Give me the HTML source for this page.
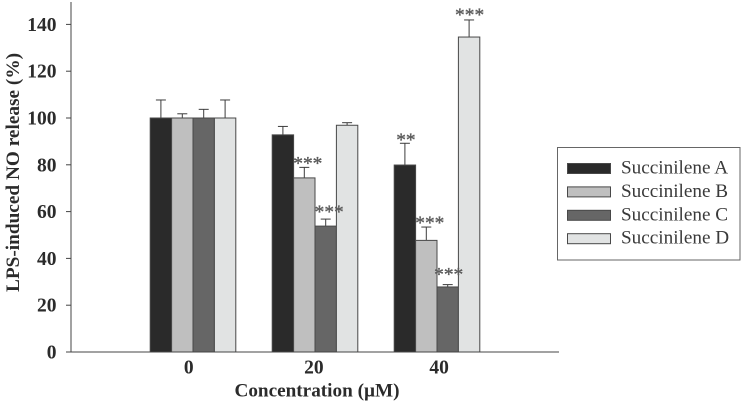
<!DOCTYPE html>
<html>
<head>
<meta charset="utf-8">
<style>
html,body{margin:0;padding:0;background:#fff;}
svg{display:block;filter:blur(0.3px);}
text{font-family:"Liberation Serif",serif;}
</style>
</head>
<body>
<svg id="chart" width="743" height="402" viewBox="0 0 743 402" xmlns="http://www.w3.org/2000/svg">
<g id="bars"></g>
<g id="stars"></g>
<g id="y-axis"></g>
<g id="x-axis"></g>
<text transform="translate(19,172.5) rotate(-90)" text-anchor="middle" font-size="19.3" font-weight="bold" fill="#2b2b2b">LPS-induced NO release (%)</text>
<text x="317" y="396.5" text-anchor="middle" font-size="19.2" font-weight="bold" fill="#2b2b2b">Concentration (µM)</text>
<g id="legend"></g>
</svg>
<script>
const categories = ['0', '20', '40'];
const seriesNames = ['Succinilene A', 'Succinilene B', 'Succinilene C', 'Succinilene D'];
const seriesA = [100, 92.8, 79.9];
const seriesB = [100, 74.4, 47.7];
const seriesC = [100, 53.8, 27.8];
const seriesD = [100, 96.9, 134.6];
const errorA = [7.7, 3.6, 9.3];
const errorB = [1.8, 4.5, 5.7];
const errorC = [3.7, 3.0, 1.0];
const errorD = [7.7, 1.1, 7.3];
const starsA = ['', '', '**'];
const starsB = ['', '***', '***'];
const starsC = ['', '***', '***'];
const starsD = ['', '', '***'];
const yTicks = [0, 20, 40, 60, 80, 100, 120, 140];

const NS = 'http://www.w3.org/2000/svg';
const allValues = [seriesA, seriesB, seriesC, seriesD];
const allErrors = [errorA, errorB, errorC, errorD];
const allStars = [starsA, starsB, starsC, starsD];
const fills = ['#2a2a2a', '#bfbfbf', '#666666', '#e1e3e3'];
const axisLeft = 71, axisBottom = 352, axisRight = 559, axisTop = 2;
const pxPerUnit = 2.34, bandWidth = 122, barWidth = 21.4;
/* layout nudges for the significance marks: [series][category] = [dx, dy] */
const starNudge = {
  '0-2': [1, 1.5],
  '1-1': [3.5, 1],
  '1-2': [3.5, 1],
  '2-1': [3.5, -2],
  '2-2': [1, -5],
  '3-2': [0.5, 0]
};

function y(v) { return axisBottom - v * pxPerUnit; }
function xCenter(i) { return axisLeft + bandWidth * (i + 1); }
function xBar(i, s) { return xCenter(i) + (s - 2) * barWidth; }
function make(tag, attrs, parent, txt) {
  const el = document.createElementNS(NS, tag);
  for (const k in attrs) el.setAttribute(k, attrs[k]);
  if (txt !== undefined) el.textContent = txt;
  parent.appendChild(el);
  return el;
}

const barsG = document.getElementById('bars');
const starsG = document.getElementById('stars');
allValues.forEach(function (vals, s) {
  vals.forEach(function (v, i) {
    const bx = xBar(i, s), cx = bx + barWidth / 2, top = y(v), errTop = y(v + allErrors[s][i]);
    const stem = make('line', {x1: cx, x2: cx, y1: top, y2: errTop, stroke: '#3c3c3c', 'stroke-width': 1}, barsG);
    
    
    const cap = make('line', {x1: cx - 5, x2: cx + 5, y1: errTop, y2: errTop, stroke: '#3c3c3c', 'stroke-width': 1}, barsG);
    
    
    const bar = make('rect', {x: bx, y: top, width: barWidth, height: axisBottom - top, fill: fills[s], stroke: '#484848', 'stroke-width': 1}, barsG);
    
    
    if (allStars[s][i]) {
      const nudge = starNudge[s + '-' + i] || [0, 0];
      const star = make('text', {x: cx + nudge[0], y: errTop + 1 + nudge[1], 'text-anchor': 'middle', 'font-size': 19.4, fill: '#5c5c5c', stroke: '#5c5c5c', 'stroke-width': 0.35}, starsG, allStars[s][i]);
      
      
    }
  });
});

const yG = document.getElementById('y-axis');
const yLine = make('line', {x1: axisLeft, x2: axisLeft, y1: axisTop, y2: axisBottom, stroke: '#444', 'stroke-width': 1}, yG);


yTicks.forEach(function (t) {
  const tick = make('line', {x1: axisLeft - 5, x2: axisLeft, y1: y(t), y2: y(t), stroke: '#444', 'stroke-width': 1}, yG);
  
  
  const lab = make('text', {x: 56.5, y: y(t) + 6.5, 'text-anchor': 'end', 'font-size': 19.5, 'font-weight': 'bold', fill: '#2b2b2b'}, yG, t);
  
  
});

const xG = document.getElementById('x-axis');
const xLine = make('line', {x1: axisLeft - 5, x2: axisRight, y1: axisBottom, y2: axisBottom, stroke: '#444', 'stroke-width': 1}, xG);


categories.forEach(function (c, i) {
  const lab = make('text', {x: xCenter(i) - 4.3 + i * 3.2, y: 373.5, 'text-anchor': 'middle', 'font-size': 19.5, 'font-weight': 'bold', fill: '#2b2b2b'}, xG, c);
  
  
});

const legendG = document.getElementById('legend');
const box = make('rect', {x: 557.5, y: 147.5, width: 182.5, height: 112.5, fill: '#fff', stroke: '#666', 'stroke-width': 1}, legendG);


seriesNames.forEach(function (n, s) {
  const top = 163.5 + s * 23.4;
  const sw = make('rect', {x: 567.5, y: top, width: 43, height: 10, fill: fills[s], stroke: '#484848', 'stroke-width': 1}, legendG);
  
  
  const lab = make('text', {x: 621, y: top + 10, 'font-size': 19.2, fill: '#3a3a3a'}, legendG, n);
  
  
});
</script>
</body>
</html>
